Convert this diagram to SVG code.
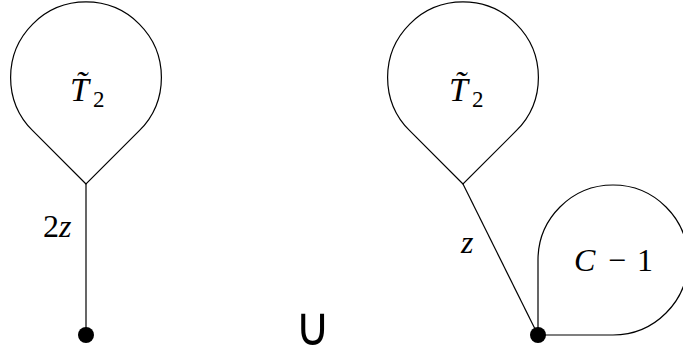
<svg xmlns="http://www.w3.org/2000/svg" width="683" height="358" viewBox="0 0 683 358">
<style>
.shape{fill:none;stroke:#000;stroke-width:1.2}
.edge{stroke:#000;stroke-width:1.2;fill:none}
.dot{fill:#000}
.m{font-family:"Liberation Serif",serif;font-size:32px;fill:#000}
.i{font-style:italic}
.t{font-size:34px}
.sub{font-size:23px;font-style:normal}
.cup{font-family:"DejaVu Sans",sans-serif;font-size:48px;font-weight:200;fill:#000}
</style>
<rect width="683" height="358" fill="#fff"/>
<g id="connectors">
<line class="edge" x1="86" y1="184" x2="86" y2="335"/>
<line class="edge" x1="463" y1="184" x2="538" y2="335"/>
<text class="m" x="43" y="237"><tspan>2</tspan><tspan class="i">z</tspan></text>
<text class="m i" x="461" y="253">z</text>
</g>
<g id="left-tree">
<path class="shape" d="M86 184 L32.7 130.7 A75.4 75.4 0 1 1 139.3 130.7 Z"/>
<text class="m i t" x="70" y="101">T&#771;<tspan class="sub" x="93" dy="6">2</tspan></text>
</g>
<g id="left-root"><circle class="dot" cx="86" cy="335" r="8"/></g>
<g id="right-tree">
<path class="shape" d="M463 184 L409.7 130.7 A75.4 75.4 0 1 1 516.3 130.7 Z"/>
<text class="m i t" x="449" y="101">T&#771;<tspan class="sub" x="472" dy="6">2</tspan></text>
</g>
<g id="loop">
<path class="shape" d="M538 335 L538 260 A75 75 0 1 1 613 335 Z"/>
<text class="m" y="271"><tspan class="i" x="574">C</tspan><tspan x="608">−</tspan><tspan x="637">1</tspan></text>
</g>
<g id="right-root"><circle class="dot" cx="538" cy="335" r="8"/></g>
<text class="cup" transform="translate(312,345) scale(1,1.12)" text-anchor="middle">∪</text>
</svg>
